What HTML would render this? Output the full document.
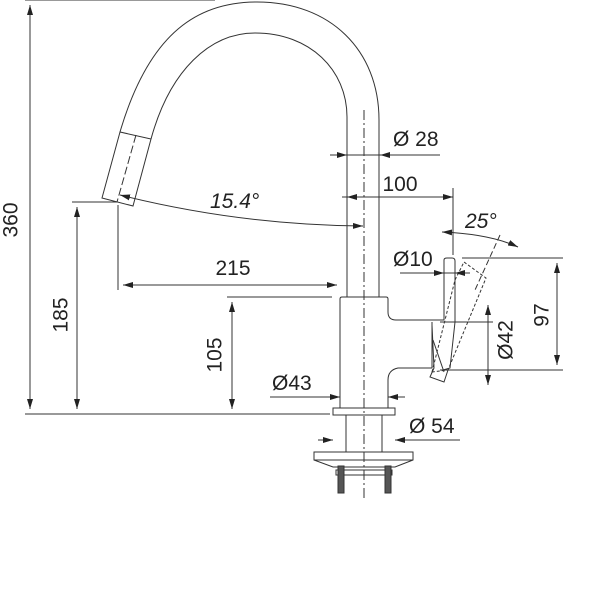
<!DOCTYPE html>
<html><head><style>body{margin:0;background:#fff}svg{display:block}text{font-family:"Liberation Sans",sans-serif;fill:#222}</style></head><body>
<svg width="600" height="600" viewBox="0 0 600 600" xmlns="http://www.w3.org/2000/svg">
<defs><marker id="a" viewBox="0 0 10 6" refX="10" refY="3" markerWidth="10" markerHeight="6" orient="auto-start-reverse" markerUnits="userSpaceOnUse"><path d="M0,0L10,3L0,6z" fill="#222"/></marker></defs>
<g fill="none" stroke="#333" stroke-width="1">
<path d="M120,132 C150,30 200,2 257,2 C330,2 379,50 379,120 V297"/>
<path d="M151,139 C170,70 210,33 255,33 C310,33 347,70 347,117 V297"/>
<path d="M120,132 L102,198 L133,206 L151,139 Z"/>
<path d="M136,135 L117,202" stroke-dasharray="8,3"/>
<path d="M340,408 V299 Q340,297 342,297 H386 Q388,297 388,299 V312 Q388,320 396,320 H444"/>
<path d="M444,320 V260 Q444,258 447,258 H452 Q455,258 455,261 V322 L450,368 L443,370"/>
<path d="M432,322 V368 H398 Q388,370 388,380 V408 H340"/>
<path d="M432,325 L434,368 L430,377 L444,382 L448,370"/>
<path d="M433,340 L444,372"/>
<path d="M432,372 L455,280 L464,262 L486,278 L448,370 Z" stroke-dasharray="3,2"/>
<rect x="333" y="408" width="62" height="7"/>
<rect x="346" y="415" width="36" height="37"/>
<path d="M314,452 H413 V460 L395,467 H333 L314,460 Z"/>
<path d="M314,460 H413"/>
<rect x="336" y="470" width="56" height="5"/>
<rect x="338" y="466" width="6" height="27" fill="#555"/>
<rect x="385" y="466" width="6" height="27" fill="#555"/>
<path d="M364,110 V500" stroke-dasharray="10,3,2,3"/>
<path d="M25,0 H215 M25,414 H330 M72,202 H117 M118,205 V290 M227,297 H332 M330,155 H440 M342,197 H453 M453,188 V255 M462,258 H563 M440,322 H493 M440,370 H563 M400,273 H470"/>
<path d="M30,5 V409" marker-start="url(#a)" marker-end="url(#a)"/>
<path d="M77,207 V409" marker-start="url(#a)" marker-end="url(#a)"/>
<path d="M123,285 H337" marker-start="url(#a)" marker-end="url(#a)"/>
<path d="M232,302 V409" marker-start="url(#a)" marker-end="url(#a)"/>
<path d="M557,263 V365" marker-start="url(#a)" marker-end="url(#a)"/>
<path d="M488,305 V385" marker-start="url(#a)" marker-end="url(#a)"/>
<path d="M330,155 H347" marker-end="url(#a)"/><path d="M395,155 H380" marker-end="url(#a)"/>
<path d="M370,197 H347" marker-end="url(#a)"/><path d="M420,197 H453" marker-end="url(#a)"/>
<path d="M420,273 H444" marker-end="url(#a)"/><path d="M470,273 H455" marker-end="url(#a)"/>
<path d="M270,397 H340" marker-end="url(#a)"/><path d="M405,397 H388" marker-end="url(#a)"/>
<path d="M318,440 H333" marker-end="url(#a)"/><path d="M460,440 H395" marker-end="url(#a)"/>
<path d="M120,195 Q240,225 363,226" marker-start="url(#a)" marker-end="url(#a)"/>
<path d="M442,232 Q490,234 518,247" marker-start="url(#a)" marker-end="url(#a)"/>
<path d="M500,235 L475,290" stroke-dasharray="6,3"/>
</g>
<g font-size="21">
<text x="12" y="220" transform="rotate(-90 12 220)" text-anchor="middle" dominant-baseline="middle">360</text>
<text x="62" y="315" transform="rotate(-90 62 315)" text-anchor="middle" dominant-baseline="middle">185</text>
<text x="216" y="355" transform="rotate(-90 216 355)" text-anchor="middle" dominant-baseline="middle">105</text>
<text x="507" y="340" transform="rotate(-90 507 340)" text-anchor="middle" dominant-baseline="middle">Ø42</text>
<text x="543" y="315" transform="rotate(-90 543 315)" text-anchor="middle" dominant-baseline="middle">97</text>
<text x="233" y="275" text-anchor="middle">215</text>
<text x="400" y="191" text-anchor="middle">100</text>
<text x="393" y="146">Ø 28</text>
<text x="393" y="266">Ø10</text>
<text x="272" y="390">Ø43</text>
<text x="409" y="433">Ø 54</text>
<text x="210" y="208" font-style="italic">15.4°</text>
<text x="465" y="228" font-style="italic">25°</text>
</g>
</svg>
</body></html>
